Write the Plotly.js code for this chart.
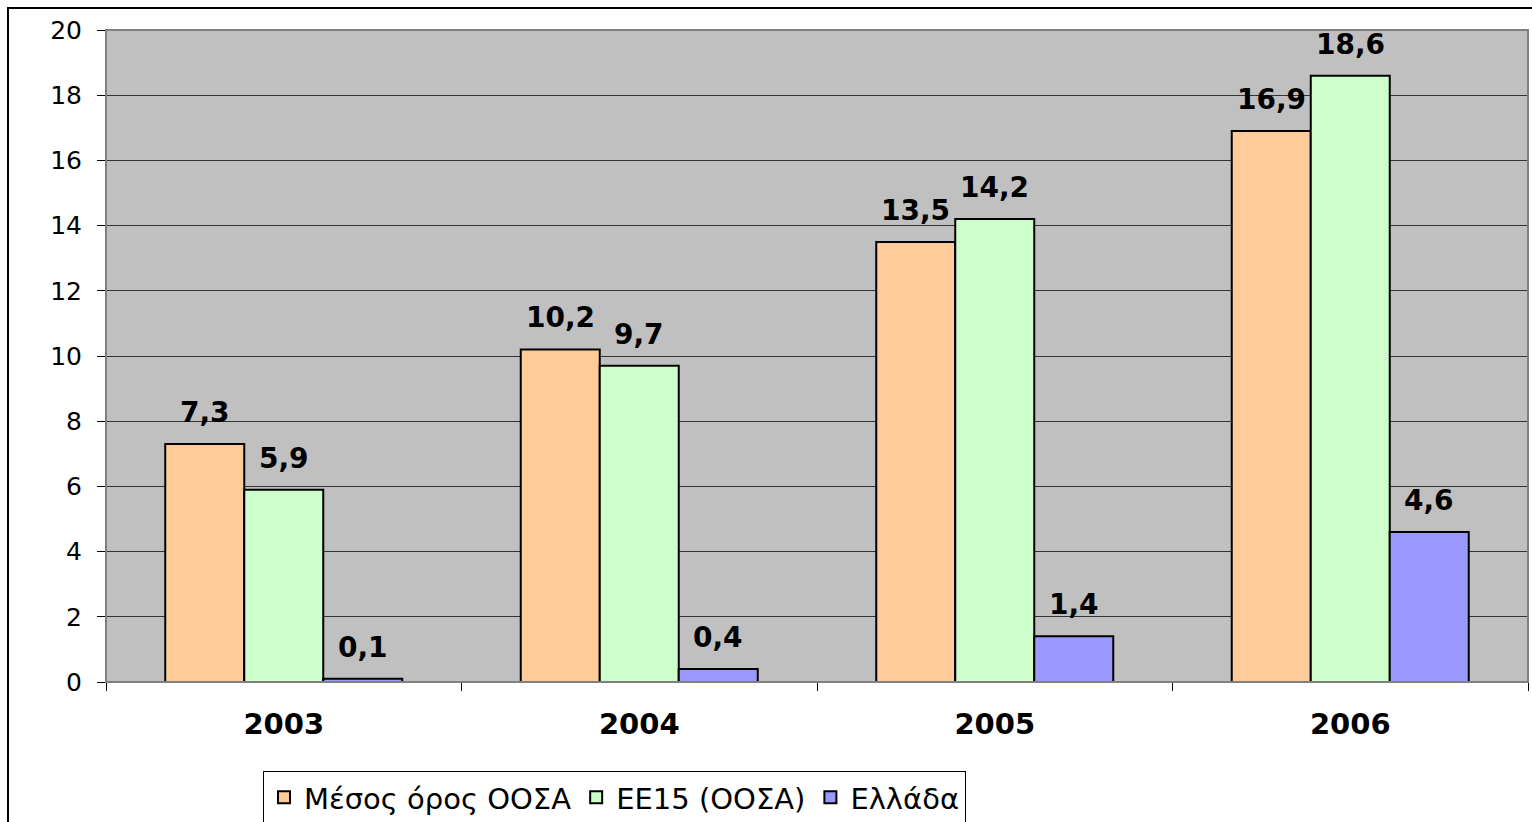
<!DOCTYPE html>
<html>
<head>
<meta charset="utf-8">
<script src="https://cdn.plot.ly/plotly-3.0.1.min.js"></script>
<style>html,body{margin:0;padding:0;background:#fff;}#chart{width:1532px;height:822px;}</style>
</head>
<body>
<div id="chart"></div>
<script>
const years = ["2003", "2004", "2005", "2006"];
const seriesNames = ["Μέσος όρος ΟΟΣΑ", "ΕΕ15 (ΟΟΣΑ)", "Ελλάδα"];
const oecdAvg = [7.3, 10.2, 13.5, 16.9];
const eu15 = [5.9, 9.7, 14.2, 18.6];
const greece = [0.1, 0.4, 1.4, 4.6];
const yTicks = [0, 2, 4, 6, 8, 10, 12, 14, 16, 18, 20];

const colors = ["#FFCC99", "#CCFFCC", "#9999FF"];
const allSeries = [oecdAvg, eu15, greece];
const FONT = "DejaVu Sans, Verdana, sans-serif";
const bargap = 1 / 3;
const barW = (1 - bargap) / 3;

const traces = allSeries.map((vals, k) => ({
  type: "bar",
  name: seriesNames[k],
  x: years,
  y: vals,
  marker: { color: colors[k], line: { color: "#000", width: 2 } },
  hoverinfo: "skip"
}));

const fmt = v => v.toFixed(1).replace(".", ",");
const annotations = [];
allSeries.forEach((vals, k) => {
  vals.forEach((v, i) => {
    annotations.push({
      x: i + (k - 1) * barW,
      y: v,
      xref: "x",
      yref: "y",
      text: "<b>" + fmt(v) + "</b>",
      showarrow: false,
      yanchor: "bottom",
      yshift: 13,
      font: { family: FONT, size: 28, color: "#000" }
    });
  });
});

const layout = {
  width: 1532,
  height: 822,
  margin: { l: 106, r: 4, t: 30, b: 140 },
  paper_bgcolor: "#fff",
  plot_bgcolor: "#C0C0C0",
  barmode: "group",
  bargap: bargap,
  bargroupgap: 0,
  showlegend: true,
  legend: {
    orientation: "h",
    xref: "container",
    yref: "container",
    x: 263 / 1532,
    y: 1 - 771 / 822,
    xanchor: "left",
    yanchor: "top",
    bgcolor: "#fff",
    bordercolor: "#000",
    borderwidth: 1,
    font: { family: FONT, size: 29, color: "#000" },
    itemwidth: 30,
    tracegroupgap: 0
  },
  xaxis: {
    type: "category",
    tickson: "boundaries",
    ticks: "outside",
    ticklen: 8,
    tickcolor: "#000",
    showline: true,
    linecolor: "#000",
    linewidth: 1,
    showgrid: false,
    ticklabelstandoff: 16,
    tickfont: { family: FONT, size: 29, color: "#000", weight: "bold" },
    fixedrange: true
  },
  yaxis: {
    range: [0, 20],
    tickvals: yTicks,
    ticktext: yTicks.map(String),
    ticks: "outside",
    ticklen: 8,
    tickcolor: "#000",
    showline: true,
    linecolor: "#000",
    linewidth: 1,
    showgrid: true,
    gridcolor: "#333",
    gridwidth: 1,
    zeroline: false,
    ticklabelstandoff: 10,
    tickfont: { family: FONT, size: 25, color: "#000" },
    fixedrange: true
  },
  annotations: annotations,
  shapes: [
    {
      type: "rect", xref: "paper", yref: "paper",
      x0: 0, x1: 1, y0: 0, y1: 1,
      line: { color: "#808080", width: 2 }, fillcolor: "rgba(0,0,0,0)", layer: "above"
    },
    {
      type: "rect", xref: "paper", yref: "paper",
      x0: (8 - 106) / 1422, x1: 1.05, y0: (682 - 840) / 652, y1: (682 - 8) / 652,
      line: { color: "#000", width: 2 }, fillcolor: "rgba(0,0,0,0)", layer: "above"
    }
  ]
};

Plotly.newPlot("chart", traces, layout, { displayModeBar: false, staticPlot: true });
</script>
</body>
</html>
